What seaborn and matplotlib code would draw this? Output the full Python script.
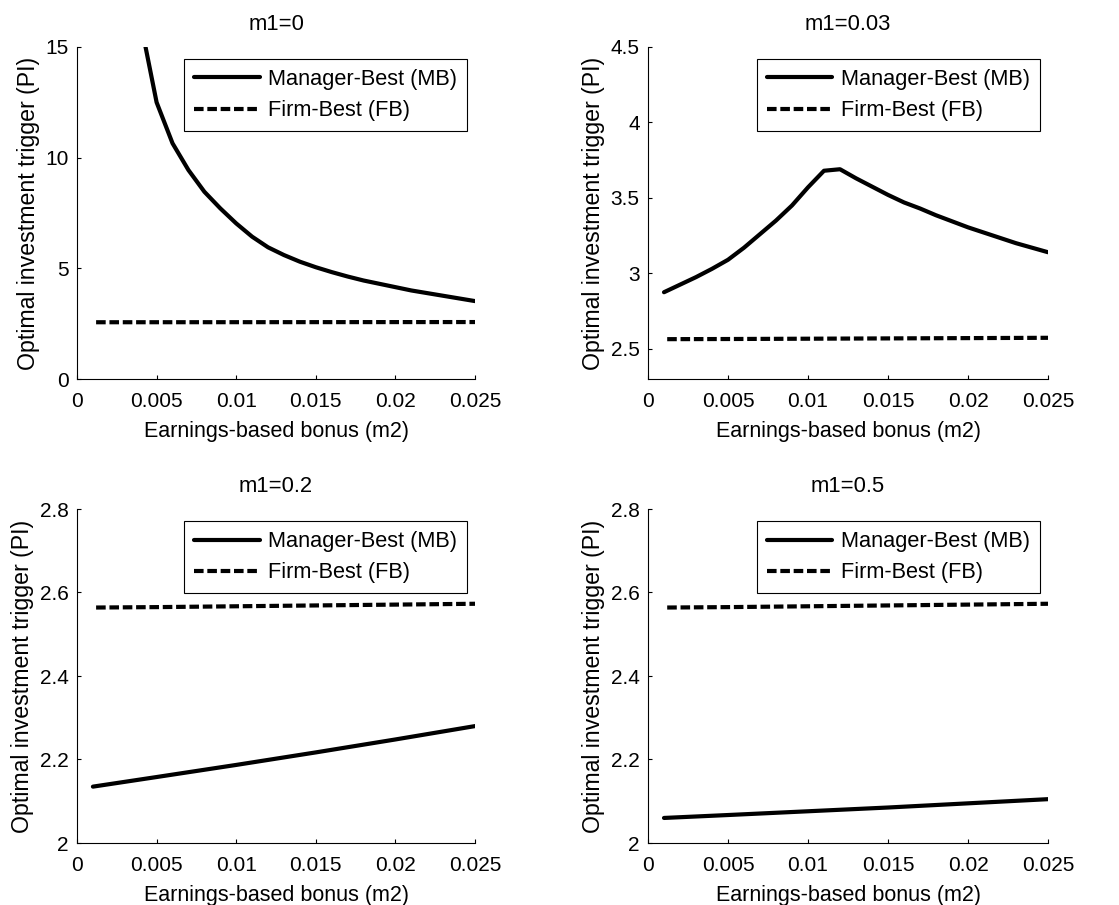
import numpy as np
import pandas as pd
import matplotlib
matplotlib.use("Agg")
import matplotlib.pyplot as plt
from matplotlib.ticker import FuncFormatter
import seaborn as sns

# ---------------- data ----------------
m2_grid = [0.001, 0.002, 0.003, 0.004, 0.005, 0.006, 0.007, 0.008, 0.009, 0.010,
           0.011, 0.012, 0.013, 0.014, 0.015, 0.016, 0.017, 0.018, 0.019, 0.020,
           0.021, 0.022, 0.023, 0.024, 0.025]

mb_m1_0 = [58.3, 29.8, 20.3, 16.1, 12.5, 10.65, 9.44, 8.46, 7.71, 7.03,
           6.43, 5.95, 5.6, 5.3, 5.05, 4.83, 4.63, 4.45, 4.3, 4.15,
           4.0, 3.88, 3.76, 3.64, 3.52]
mb_m1_003 = [2.875, 2.925, 2.975, 3.03, 3.09, 3.17, 3.26, 3.35, 3.45, 3.57,
             3.68, 3.69, 3.63, 3.575, 3.52, 3.47, 3.43, 3.385, 3.345, 3.305,
             3.27, 3.235, 3.20, 3.17, 3.14]

m2_lin = [0.001, 0.005, 0.010, 0.015, 0.020, 0.025]
mb_m1_02 = [2.135, 2.158, 2.187, 2.217, 2.248, 2.280]
mb_m1_05 = [2.060, 2.067, 2.076, 2.085, 2.095, 2.105]

m2_fb = [0.0012, 0.005, 0.010, 0.015, 0.020, 0.025]
fb_all = [2.564, 2.565, 2.567, 2.569, 2.571, 2.573]

titles = ["m1=0", "m1=0.03", "m1=0.2", "m1=0.5"]
ylims = [(0, 15), (2.3, 4.5), (2.0, 2.8), (2.0, 2.8)]
yticks = [[0, 5, 10, 15], [2.5, 3, 3.5, 4, 4.5], [2, 2.2, 2.4, 2.6, 2.8], [2, 2.2, 2.4, 2.6, 2.8]]
xticks = [0, 0.005, 0.01, 0.015, 0.02, 0.025]
label_mb = "Manager-Best (MB)"
label_fb = "Firm-Best (FB)"
xlabel = "Earnings-based bonus (m2)"
ylabel = "Optimal investment trigger (PI)"

mb_series = [(m2_grid, mb_m1_0), (m2_grid, mb_m1_003), (m2_lin, mb_m1_02), (m2_lin, mb_m1_05)]

# ---------------- style ----------------
sns.set_style("ticks")
plt.rcParams["font.family"] = ["Liberation Sans", "DejaVu Sans"]
plt.rcParams.update({
    "font.size": 15,
    "xtick.direction": "in",
    "ytick.direction": "in",
    "xtick.major.size": 3,
    "ytick.major.size": 3,
    "xtick.major.width": 0.8,
    "ytick.major.width": 0.8,
    "axes.linewidth": 0.8,
    "axes.edgecolor": "black",
    "xtick.color": "black",
    "ytick.color": "black",
    "text.color": "black",
    "axes.labelcolor": "black",
})

fig = plt.figure(figsize=(11.19, 9.05), dpi=100)
W, H = 1119, 905
boxes = [(77, 47, 475, 379), (648, 47, 1048, 379), (77, 509, 475, 843), (648, 509, 1048, 843)]

def fmt(v, pos):
    return "%g" % v

for i, (l, t, r, b) in enumerate(boxes):
    ax = fig.add_axes([l / W, 1 - b / H, (r - l) / W, (b - t) / H])
    xs, ys = mb_series[i]
    df = pd.concat([
        pd.DataFrame({"m2": xs, "PI": ys, "Series": label_mb}),
        pd.DataFrame({"m2": m2_fb, "PI": fb_all, "Series": label_fb}),
    ], ignore_index=True)
    sns.lineplot(data=df, x="m2", y="PI", style="Series",
                 dashes={label_mb: "", label_fb: (2.3, 0.9)},
                 color="black", linewidth=3, ax=ax, legend=False, sort=False)
    ax.set_xlim(0, 0.025)
    ax.set_ylim(*ylims[i])
    ax.set_xticks(xticks)
    ax.set_yticks(yticks[i])
    ax.xaxis.set_major_formatter(FuncFormatter(fmt))
    ax.yaxis.set_major_formatter(FuncFormatter(fmt))
    ax.tick_params(axis="x", pad=9, labelsize=15)
    ax.tick_params(axis="y", pad=6, labelsize=15)
    sns.despine(ax=ax)
    ax.set_xlabel(xlabel, fontsize=15.5, labelpad=7.5)
    ax.set_ylabel(ylabel, fontsize=16.7, labelpad=4)
    ax.set_title(titles[i], fontsize=15.8, pad=12)
    handles = ax.get_lines()[:2]
    leg = ax.legend(handles, [label_mb, label_fb], loc="upper right",
                    bbox_to_anchor=(0.98, 0.963), borderaxespad=0,
                    handlelength=3.0, handletextpad=0.4, labelspacing=0.47,
                    fontsize=15.7, frameon=True, fancybox=False, framealpha=1,
                    edgecolor="black", borderpad=0.45)
    leg.get_frame().set_linewidth(0.8)

fig.savefig("out.png", dpi=100, facecolor="white")
